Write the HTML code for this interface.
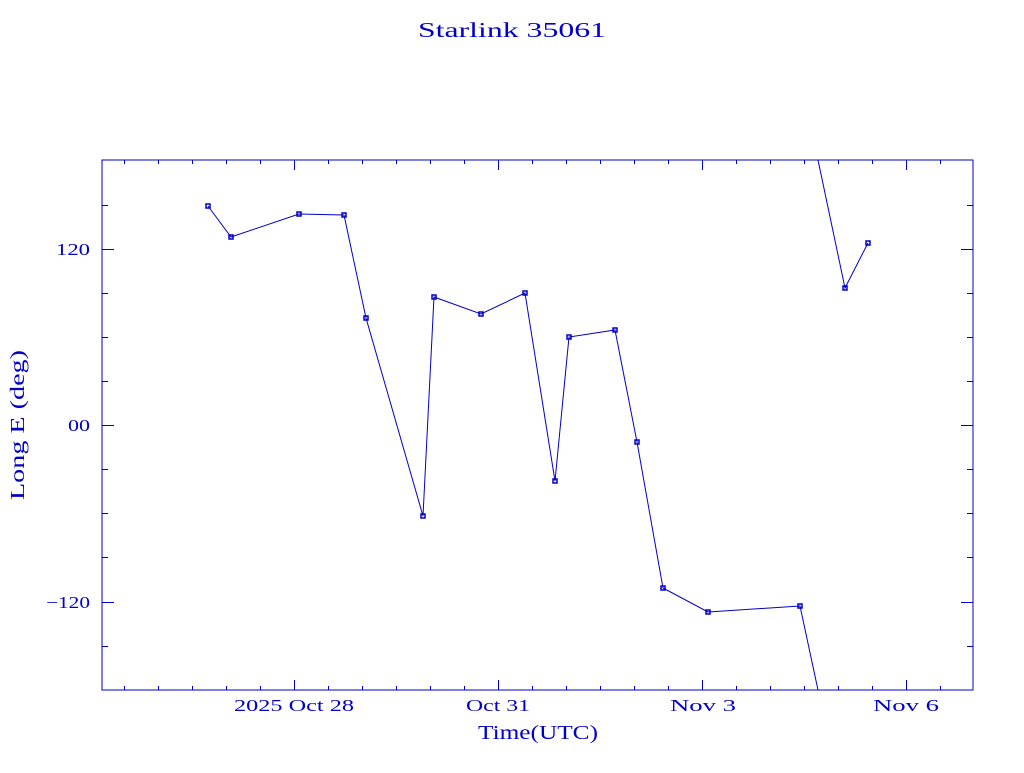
<!DOCTYPE html>
<html><head><meta charset="utf-8"><style>body{margin:0;background:#fff}</style></head><body>
<svg width="1024" height="768" xmlns="http://www.w3.org/2000/svg" font-family="Liberation Serif, serif" fill="#0000c8">
<text x="418" y="37" font-size="21" textLength="188" lengthAdjust="spacingAndGlyphs">Starlink 35061</text>
<rect x="102" y="160" width="871" height="530" fill="none" stroke="#0000c8" stroke-width="1"/>
<g stroke="#0000c8" stroke-width="1">
<path d="M124.5 690v-4M158.5 690v-4M192.5 690v-4M226.5 690v-4M260.5 690v-4M294.5 690v-10M328.5 690v-4M362.5 690v-4M396.5 690v-4M430.5 690v-4M464.5 690v-4M498.5 690v-10M532.5 690v-4M566.5 690v-4M600.5 690v-4M634.5 690v-4M668.5 690v-4M702.5 690v-10M736.5 690v-4M770.5 690v-4M804.5 690v-4M838.5 690v-4M872.5 690v-4M906.5 690v-10M940.5 690v-4"/>
<path d="M124.5 160v4M158.5 160v4M192.5 160v4M226.5 160v4M260.5 160v4M294.5 160v10M328.5 160v4M362.5 160v4M396.5 160v4M430.5 160v4M464.5 160v4M498.5 160v10M532.5 160v4M566.5 160v4M600.5 160v4M634.5 160v4M668.5 160v4M702.5 160v10M736.5 160v4M770.5 160v4M804.5 160v4M838.5 160v4M872.5 160v4M906.5 160v10M940.5 160v4"/>
<path d="M102 205.5h6M102 249.5h12M102 293.5h6M102 337.5h6M102 381.5h6M102 425.5h12M102 469.5h6M102 513.5h6M102 557.5h6M102 602.5h12M102 646.5h6"/>
<path d="M973 205.5h-6M973 249.5h-12M973 293.5h-6M973 337.5h-6M973 381.5h-6M973 425.5h-12M973 469.5h-6M973 513.5h-6M973 557.5h-6M973 602.5h-12M973 646.5h-6"/>
</g>
<g font-size="17" lengthAdjust="spacingAndGlyphs">
<text x="56" y="255" textLength="34" lengthAdjust="spacingAndGlyphs">120</text>
<text x="68" y="431" textLength="22" lengthAdjust="spacingAndGlyphs">00</text>
<text x="46" y="608" textLength="44" lengthAdjust="spacingAndGlyphs">−120</text>
<text x="234" y="711" textLength="120" lengthAdjust="spacingAndGlyphs">2025 Oct 28</text>
<text x="466" y="711" textLength="64" lengthAdjust="spacingAndGlyphs">Oct 31</text>
<text x="670" y="711" textLength="66" lengthAdjust="spacingAndGlyphs">Nov  3</text>
<text x="873" y="711" textLength="66" lengthAdjust="spacingAndGlyphs">Nov  6</text>
</g>
<text x="478" y="739" font-size="20" textLength="120" lengthAdjust="spacingAndGlyphs">Time(UTC)</text>
<text transform="translate(24,500) rotate(-90)" font-size="20" textLength="150" lengthAdjust="spacingAndGlyphs">Long E (deg)</text>
<g fill="none" stroke="#0000c8" stroke-width="1">
<polyline points="208,206 231,237 299,214 344,215 366,318 423,516 434,297 481,314 525,293 555,481 569,337 615,330 637,442 663,588 708,612 800,606 818,690"/>
<polyline points="818,160 845,288 868,243"/>
<g stroke-width="1.5">
<rect x="206" y="204" width="4" height="4"/><rect x="229" y="235" width="4" height="4"/><rect x="297" y="212" width="4" height="4"/><rect x="342" y="213" width="4" height="4"/><rect x="364" y="316" width="4" height="4"/><rect x="421" y="514" width="4" height="4"/><rect x="432" y="295" width="4" height="4"/><rect x="479" y="312" width="4" height="4"/><rect x="523" y="291" width="4" height="4"/><rect x="553" y="479" width="4" height="4"/><rect x="567" y="335" width="4" height="4"/><rect x="613" y="328" width="4" height="4"/><rect x="635" y="440" width="4" height="4"/><rect x="661" y="586" width="4" height="4"/><rect x="706" y="610" width="4" height="4"/><rect x="798" y="604" width="4" height="4"/><rect x="843" y="286" width="4" height="4"/><rect x="866" y="241" width="4" height="4"/>
</g></g>
</svg>
</body></html>
